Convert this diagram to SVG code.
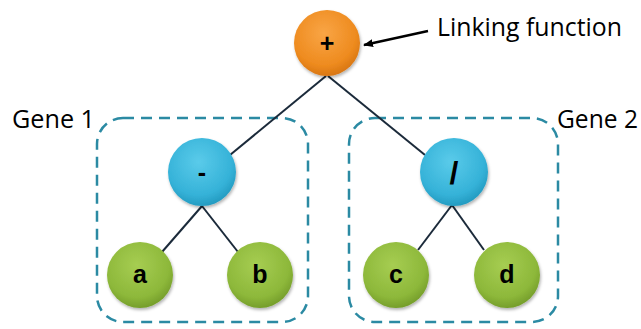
<svg xmlns="http://www.w3.org/2000/svg" width="641" height="329" viewBox="0 0 641 329">
  <defs>
    <radialGradient id="gOrange" cx="0.45" cy="0.35" r="0.7">
      <stop offset="0" stop-color="#F9A545"/>
      <stop offset="0.7" stop-color="#EE8B1F"/>
      <stop offset="1" stop-color="#D2700E"/>
    </radialGradient>
    <radialGradient id="gBlue" cx="0.45" cy="0.35" r="0.7">
      <stop offset="0" stop-color="#5ACBEA"/>
      <stop offset="0.7" stop-color="#35B2D8"/>
      <stop offset="1" stop-color="#1E94BA"/>
    </radialGradient>
    <radialGradient id="gGreen" cx="0.45" cy="0.35" r="0.7">
      <stop offset="0" stop-color="#A6CD52"/>
      <stop offset="0.7" stop-color="#8DB83A"/>
      <stop offset="1" stop-color="#6E9626"/>
    </radialGradient>
    <filter id="shadow" x="-20%" y="-20%" width="150%" height="150%">
      <feDropShadow dx="1" dy="2" stdDeviation="1.5" flood-color="#000" flood-opacity="0.3"/>
    </filter>
    <marker id="arrow" markerWidth="10" markerHeight="8" refX="9" refY="4" orient="auto" markerUnits="userSpaceOnUse">
      <path d="M0,0 L10,4 L0,8 Z" fill="#000"/>
    </marker>
  </defs>
  <style>
    .edge { stroke: #1B2A3A; stroke-width: 2; fill: none; }
    .gene { fill: none; stroke: #2B8AA3; stroke-width: 2.5; stroke-dasharray: 11 7; }
    .lbl { font-family: "Liberation Sans", Arial, sans-serif; font-weight: bold; font-size: 25px; text-anchor: middle; fill: #000; }
    .note { font-family: "Open Sans", "Liberation Sans", sans-serif; font-size: 25px; fill: #000; }
  </style>

  <!-- gene boundaries -->
  <rect class="gene" x="97" y="118" width="211" height="204" rx="26"/>
  <rect class="gene" x="349" y="118" width="209" height="204" rx="26"/>

  <!-- connectors -->
  <g id="edges">
    <line class="edge" x1="326" y1="76" x2="230" y2="155"/>
    <line class="edge" x1="328" y1="76" x2="425" y2="155"/>
    <line class="edge" x1="202" y1="206" x2="162" y2="252"/>
    <line class="edge" x1="202" y1="206" x2="238" y2="252"/>
    <line class="edge" x1="452" y1="205" x2="418" y2="250"/>
    <line class="edge" x1="452" y1="205" x2="484" y2="250"/>
    <line x1="428" y1="31" x2="364" y2="45" stroke="#000" stroke-width="2.5" marker-end="url(#arrow)"/>
  </g>

  <g id="root">
    <circle cx="327" cy="43" r="33" fill="url(#gOrange)" filter="url(#shadow)"/>
    <text class="lbl" x="327" y="52">+</text>
  </g>
  <g id="minus">
    <circle cx="202" cy="172" r="34" fill="url(#gBlue)" filter="url(#shadow)"/>
    <text class="lbl" x="202" y="181">-</text>
  </g>
  <g id="divide">
    <circle cx="454" cy="172" r="34" fill="url(#gBlue)" filter="url(#shadow)"/>
    <text class="lbl" x="454" y="184" style="font-size:32px">/</text>
  </g>
  <g id="a">
    <circle cx="140" cy="275" r="33" fill="url(#gGreen)" filter="url(#shadow)"/>
    <text class="lbl" x="140" y="283">a</text>
  </g>
  <g id="b">
    <circle cx="260" cy="275" r="33" fill="url(#gGreen)" filter="url(#shadow)"/>
    <text class="lbl" x="260" y="283">b</text>
  </g>
  <g id="c">
    <circle cx="396" cy="275" r="33" fill="url(#gGreen)" filter="url(#shadow)"/>
    <text class="lbl" x="396" y="283">c</text>
  </g>
  <g id="d">
    <circle cx="507" cy="275" r="33" fill="url(#gGreen)" filter="url(#shadow)"/>
    <text class="lbl" x="507" y="283">d</text>
  </g>

  <text class="note" x="437" y="36" textLength="185" lengthAdjust="spacingAndGlyphs">Linking function</text>
  <text class="note" x="12" y="128" textLength="83" lengthAdjust="spacingAndGlyphs">Gene 1</text>
  <text class="note" x="557" y="128" textLength="81" lengthAdjust="spacingAndGlyphs">Gene 2</text>
</svg>
